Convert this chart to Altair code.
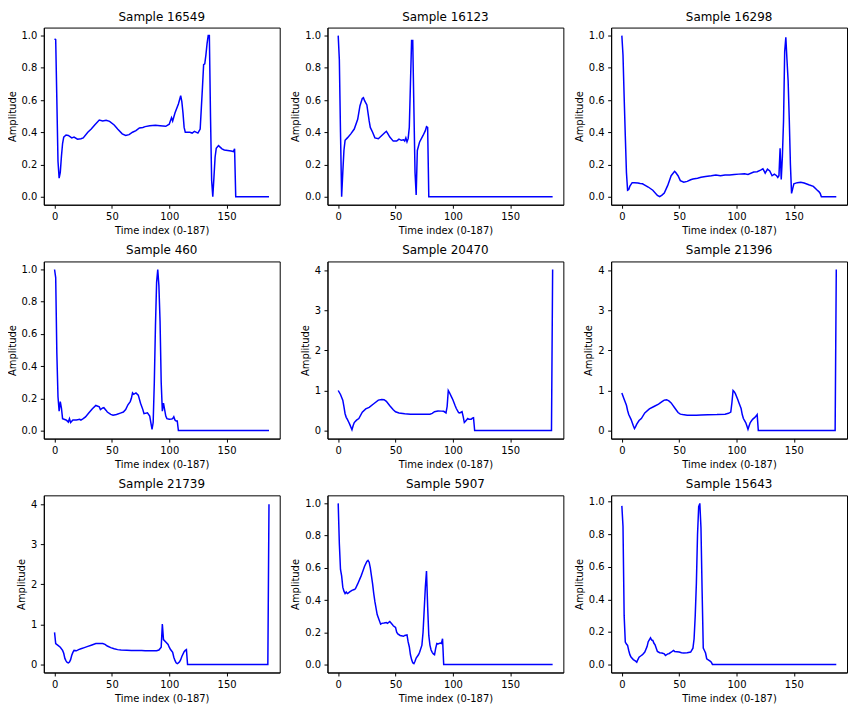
import altair as alt
import pandas as pd

TITLES = ["Sample 16549", "Sample 16123", "Sample 16298",
          "Sample 460", "Sample 20470", "Sample 21396",
          "Sample 21739", "Sample 5907", "Sample 15643"]

S16549_X = [0, 1, 2, 3, 4, 5, 6, 7, 8, 10, 12, 15, 17, 20, 23, 25, 29, 32, 35, 39, 42, 45, 48, 52, 55, 59, 62, 65, 68, 71, 74, 77, 79, 83, 88, 92, 97, 100, 102, 103, 105, 108, 110, 111, 112, 113, 114, 118, 120, 122, 125, 127, 128, 129, 130, 131, 132, 133, 134, 135, 136, 137, 138, 139, 140, 141, 143, 146, 148, 151, 154, 156, 157, 158, 187]
S16549_Y = [0.98, 0.975, 0.6, 0.22, 0.115, 0.15, 0.25, 0.33, 0.37, 0.383, 0.38, 0.365, 0.37, 0.357, 0.36, 0.365, 0.40, 0.42, 0.445, 0.476, 0.47, 0.475, 0.468, 0.445, 0.42, 0.39, 0.38, 0.385, 0.40, 0.41, 0.427, 0.43, 0.435, 0.44, 0.443, 0.44, 0.437, 0.45, 0.49, 0.47, 0.52, 0.575, 0.627, 0.59, 0.52, 0.43, 0.40, 0.40, 0.395, 0.405, 0.395, 0.42, 0.55, 0.68, 0.82, 0.825, 0.88, 0.95, 1.0, 1.0, 0.5, 0.1, 0.0, 0.12, 0.245, 0.30, 0.317, 0.297, 0.29, 0.287, 0.283, 0.28, 0.297, 0.0, 0.0]

S16123_X = [0, 1, 2, 3, 4, 5, 6, 8, 11, 14, 17, 19, 21, 22, 23, 25, 27, 28, 30, 32, 35, 38, 41, 42, 43, 45, 48, 51, 53, 55, 57, 58, 59, 60, 61, 62, 63, 64, 65, 66, 67, 68, 69, 71, 74, 76, 77, 78, 79, 187]
S16123_Y = [1.0, 0.85, 0.4, 0.0, 0.15, 0.287, 0.35, 0.365, 0.39, 0.42, 0.48, 0.565, 0.61, 0.615, 0.596, 0.57, 0.47, 0.43, 0.40, 0.365, 0.36, 0.38, 0.40, 0.406, 0.395, 0.37, 0.345, 0.345, 0.357, 0.35, 0.353, 0.345, 0.365, 0.34, 0.36, 0.43, 0.7, 0.97, 0.97, 0.55, 0.15, 0.01, 0.287, 0.34, 0.38, 0.41, 0.435, 0.43, 0.0, 0.0]

S16298_X = [0, 1, 2, 3, 4, 5, 6, 7, 9, 11, 14, 16, 18, 20, 23, 27, 31, 33, 35, 37, 40, 43, 46, 47, 49, 51, 54, 57, 60, 62, 66, 69, 73, 78, 82, 86, 90, 94, 98, 102, 107, 110, 115, 118, 121, 123, 124, 125, 127, 129, 131, 133, 135, 136, 137, 138, 139, 140, 141, 142, 143, 144, 145, 146, 147, 148, 149, 150, 153, 156, 159, 163, 167, 170, 172, 173, 174, 187]
S16298_Y = [1.0, 0.88, 0.62, 0.38, 0.15, 0.04, 0.045, 0.065, 0.087, 0.087, 0.085, 0.082, 0.08, 0.072, 0.06, 0.04, 0.008, 0.0, 0.01, 0.023, 0.07, 0.13, 0.157, 0.15, 0.13, 0.10, 0.09, 0.095, 0.105, 0.11, 0.115, 0.12, 0.125, 0.13, 0.135, 0.13, 0.135, 0.135, 0.138, 0.14, 0.142, 0.138, 0.153, 0.155, 0.165, 0.173, 0.16, 0.146, 0.171, 0.16, 0.13, 0.14, 0.13, 0.12, 0.13, 0.30, 0.107, 0.25, 0.47, 0.9, 0.99, 0.85, 0.72, 0.48, 0.2, 0.02, 0.05, 0.08, 0.087, 0.09, 0.085, 0.074, 0.064, 0.043, 0.03, 0.02, 0.0, 0.0]

S460_X = [0, 1, 2, 3, 4, 5, 6, 7, 10, 11, 12, 13, 14, 16, 19, 22, 23, 25, 27, 30, 33, 36, 39, 40, 42, 43, 45, 46, 49, 51, 54, 58, 60, 62, 64, 66, 67, 68, 69, 71, 73, 75, 77, 78, 81, 83, 85, 86, 87, 88, 89, 90, 91, 92, 93, 94, 95, 96, 97, 98, 100, 102, 103, 104, 105, 106, 107, 108, 187]
S460_Y = [1.0, 0.95, 0.48, 0.21, 0.12, 0.18, 0.14, 0.074, 0.066, 0.06, 0.053, 0.074, 0.05, 0.066, 0.065, 0.07, 0.065, 0.074, 0.085, 0.11, 0.135, 0.156, 0.148, 0.13, 0.14, 0.142, 0.125, 0.115, 0.10, 0.095, 0.10, 0.11, 0.115, 0.13, 0.16, 0.18, 0.2, 0.234, 0.225, 0.234, 0.22, 0.17, 0.13, 0.105, 0.11, 0.09, 0.008, 0.05, 0.3, 0.65, 0.92, 1.0, 0.9, 0.68, 0.3, 0.12, 0.17, 0.13, 0.09, 0.074, 0.07, 0.072, 0.074, 0.086, 0.065, 0.06, 0.06, 0.0, 0.0]

S20470_X = [0, 2, 4, 5, 6, 7, 8, 9, 10, 11, 12, 13, 14, 16, 18, 21, 24, 27, 31, 35, 38, 40, 42, 45, 48, 50, 53, 58, 63, 69, 75, 80, 82, 84, 87, 90, 92, 94, 95, 96, 97, 99, 100, 102, 103, 105, 106, 108, 109, 110, 111, 113, 114, 116, 117, 118, 119, 186, 187]
S20470_Y = [1.0, 0.9, 0.76, 0.6, 0.42, 0.33, 0.28, 0.22, 0.16, 0.09, 0.02, 0.12, 0.2, 0.26, 0.3, 0.46, 0.54, 0.58, 0.67, 0.76, 0.775, 0.77, 0.73, 0.62, 0.52, 0.47, 0.44, 0.42, 0.41, 0.41, 0.41, 0.41, 0.43, 0.47, 0.49, 0.485, 0.48, 0.44, 0.6, 1.0, 0.95, 0.83, 0.77, 0.62, 0.55, 0.45, 0.44, 0.47, 0.35, 0.2, 0.23, 0.3, 0.28, 0.28, 0.31, 0.32, 0.0, 0.0, 4.02]

S21396_X = [0, 2, 4, 5, 6, 8, 9, 10, 11, 12, 13, 15, 17, 20, 24, 28, 32, 35, 37, 39, 41, 43, 46, 49, 51, 53, 57, 60, 65, 69, 75, 83, 90, 93, 95, 96, 97, 98, 99, 101, 102, 104, 105, 106, 108, 109, 110, 111, 112, 114, 116, 117, 118, 119, 186, 187]
S21396_Y = [0.94, 0.78, 0.63, 0.5, 0.40, 0.28, 0.2, 0.12, 0.05, 0.1, 0.16, 0.25, 0.3, 0.44, 0.54, 0.6, 0.66, 0.72, 0.76, 0.77, 0.74, 0.69, 0.57, 0.45, 0.41, 0.40, 0.385, 0.38, 0.385, 0.39, 0.395, 0.40, 0.41, 0.43, 0.46, 0.7, 1.0, 0.97, 0.92, 0.78, 0.7, 0.55, 0.4, 0.3, 0.2, 0.12, 0.03, 0.12, 0.2, 0.28, 0.33, 0.36, 0.40, 0.0, 0.0, 4.02]

S21739_X = [0, 1, 3, 5, 7, 8, 9, 10, 11, 12, 13, 14, 15, 16, 17, 19, 21, 23, 26, 29, 32, 36, 39, 42, 44, 46, 49, 52, 55, 58, 63, 67, 72, 76, 79, 84, 89, 91, 93, 94, 95, 97, 99, 100, 101, 103, 104, 105, 106, 107, 108, 109, 110, 111, 113, 114, 115, 116, 186, 187]
S21739_Y = [0.8, 0.52, 0.475, 0.43, 0.35, 0.28, 0.15, 0.09, 0.05, 0.04, 0.06, 0.12, 0.23, 0.3, 0.35, 0.34, 0.37, 0.39, 0.42, 0.45, 0.48, 0.52, 0.525, 0.52, 0.5, 0.46, 0.42, 0.39, 0.37, 0.36, 0.355, 0.35, 0.35, 0.35, 0.34, 0.34, 0.34, 0.36, 0.43, 1.01, 0.62, 0.56, 0.5, 0.43, 0.38, 0.3, 0.18, 0.1, 0.04, 0.02, 0.04, 0.065, 0.12, 0.2, 0.32, 0.35, 0.37, 0.0, 0.0, 4.0]

S5907_X = [0, 1, 2, 3, 4, 5, 6, 7, 8, 9, 10, 12, 14, 15, 17, 20, 21, 23, 25, 26, 27, 28, 29, 30, 31, 32, 34, 35, 37, 38, 40, 42, 43, 45, 47, 48, 49, 50, 51, 52, 54, 57, 58, 60, 61, 62, 63, 64, 65, 66, 67, 68, 70, 71, 73, 74, 75, 76, 77, 78, 79, 80, 81, 82, 83, 84, 85, 86, 87, 89, 90, 91, 92, 187]
S5907_Y = [1.0, 0.75, 0.59, 0.55, 0.48, 0.455, 0.44, 0.45, 0.44, 0.445, 0.45, 0.46, 0.465, 0.47, 0.5, 0.55, 0.57, 0.61, 0.64, 0.646, 0.635, 0.6, 0.55, 0.5, 0.44, 0.39, 0.31, 0.29, 0.25, 0.255, 0.257, 0.26, 0.255, 0.267, 0.25, 0.24, 0.235, 0.23, 0.2, 0.19, 0.18, 0.175, 0.18, 0.183, 0.14, 0.11, 0.06, 0.03, 0.01, 0.005, 0.02, 0.04, 0.06, 0.076, 0.12, 0.2, 0.34, 0.48, 0.58, 0.36, 0.18, 0.12, 0.09, 0.075, 0.065, 0.06, 0.1, 0.13, 0.127, 0.133, 0.13, 0.16, 0.0, 0.0]

S15643_X = [0, 1, 2, 3, 4, 5, 6, 7, 8, 10, 11, 12, 13, 14, 15, 17, 18, 20, 22, 23, 25, 26, 27, 28, 29, 30, 31, 33, 35, 37, 38, 40, 41, 43, 45, 46, 48, 50, 52, 54, 57, 60, 62, 63, 64, 65, 66, 67, 68, 69, 70, 71, 72, 73, 74, 76, 77, 78, 79, 187]
S15643_Y = [0.975, 0.85, 0.3, 0.138, 0.125, 0.117, 0.086, 0.06, 0.045, 0.03, 0.025, 0.02, 0.014, 0.03, 0.045, 0.055, 0.06, 0.076, 0.11, 0.14, 0.164, 0.15, 0.148, 0.13, 0.12, 0.1, 0.08, 0.072, 0.07, 0.065, 0.055, 0.065, 0.066, 0.075, 0.086, 0.08, 0.078, 0.076, 0.072, 0.07, 0.072, 0.076, 0.1, 0.158, 0.3, 0.5, 0.8, 0.97, 0.99, 0.84, 0.45, 0.1, 0.086, 0.07, 0.035, 0.025, 0.02, 0.014, 0.0, 0.0]

SERIES = [(S16549_X, S16549_Y), (S16123_X, S16123_Y), (S16298_X, S16298_Y),
          (S460_X, S460_Y), (S20470_X, S20470_Y), (S21396_X, S21396_Y),
          (S21739_X, S21739_Y), (S5907_X, S5907_Y), (S15643_X, S15643_Y)]

X_TICKS = [0, 50, 100, 150]
Y_TICKS_SMALL = [0.0, 0.2, 0.4, 0.6, 0.8, 1.0]
Y_TICKS_BIG = [0, 1, 2, 3, 4]


def panel(title, xs, ys):
    df = pd.DataFrame({"x": xs, "y": ys})
    ymax = max(ys)
    if ymax > 2:
        ydom = [-0.201, 4.221]
        yticks = Y_TICKS_BIG
        fmt = "d"
    else:
        span = ymax - min(ys)
        ydom = [min(ys) - 0.05 * span, ymax + 0.05 * span]
        yticks = Y_TICKS_SMALL
        fmt = ".1f"
    return alt.Chart(df, title=alt.Title(title)).mark_line(
        color="#0000ff", strokeWidth=1.5, clip=True
    ).encode(
        x=alt.X("x:Q", scale=alt.Scale(domain=[-9.35, 196.35], nice=False, zero=False),
                axis=alt.Axis(values=X_TICKS, format="d", title="Time index (0-187)")),
        y=alt.Y("y:Q", scale=alt.Scale(domain=ydom, nice=False, zero=False),
                axis=alt.Axis(values=yticks, format=fmt, title="Amplitude")),
    ).properties(width=237, height=178)


charts = [panel(t, xs, ys) for t, (xs, ys) in zip(TITLES, SERIES)]

chart = alt.concat(*charts, columns=3).properties(
    spacing={"row": 57, "column": 48}, bounds="flush",
    padding={"top": 0, "left": -2, "right": 0, "bottom": 0}, background="white"
).configure_axis(
    grid=False, domain=True, domainColor="black", tickColor="black", tickSize=3.5,
    labelColor="black", titleColor="black", labelFontSize=10, titleFontSize=10,
    labelFont="DejaVu Sans", titleFont="DejaVu Sans", titleFontWeight="normal",
    labelPadding=3.5, titlePadding=4
).configure_view(
    stroke="black", strokeWidth=1
).configure_title(
    font="DejaVu Sans", fontSize=12, fontWeight="normal", color="black", offset=4, anchor="middle"
)

chart.save("out.html", embed_options={"renderer": "svg", "actions": False})
